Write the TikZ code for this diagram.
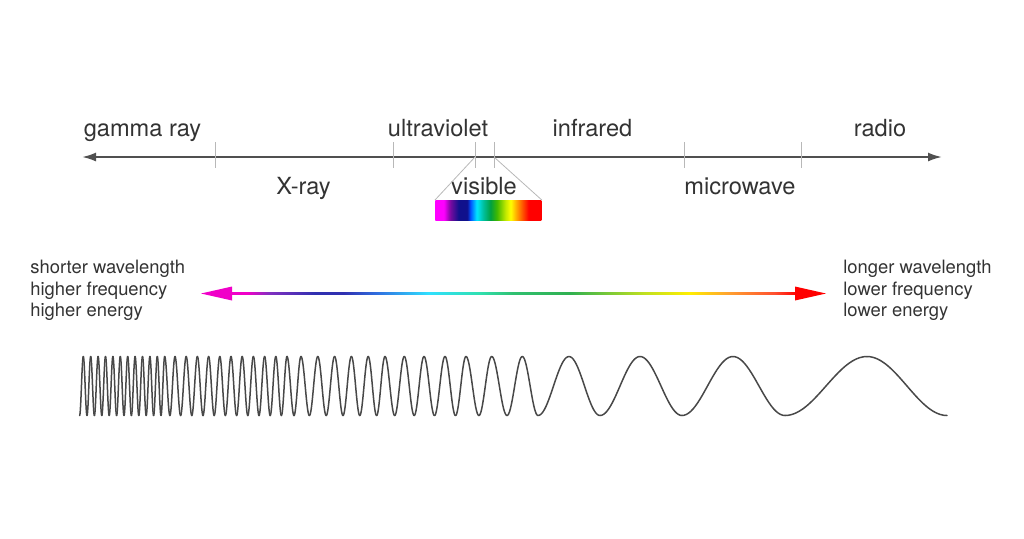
\documentclass[tikz,border=0pt]{standalone}
\usepackage{fontspec}
\setmainfont{TeX Gyre Heros}
\usetikzlibrary{arrows.meta}

\definecolor{textgray}{HTML}{333333}
\definecolor{axisgray}{HTML}{505050}
\definecolor{tickgray}{HTML}{B8B8B8}
\definecolor{wavegray}{HTML}{484848}

% colours of the visible band
\definecolor{sp1}{HTML}{FF00FF}
\definecolor{sp2}{HTML}{7A0AA0}
\definecolor{sp3}{HTML}{10108C}
\definecolor{sp4}{HTML}{0050FF}
\definecolor{sp5}{HTML}{00E8FF}
\definecolor{sp6}{HTML}{00C0A0}
\definecolor{sp7}{HTML}{00A040}
\definecolor{sp8}{HTML}{40B800}
\definecolor{sp9}{HTML}{C0E800}
\definecolor{sp10}{HTML}{FFFF00}
\definecolor{sp11}{HTML}{FFA000}
\definecolor{sp12}{HTML}{FF4800}
\definecolor{sp13}{HTML}{FF0000}

% colours of the long arrow
\definecolor{lw1}{HTML}{F000C8}
\definecolor{lw2}{HTML}{8030C0}
\definecolor{lw3}{HTML}{3030B0}
\definecolor{lw4}{HTML}{3070E0}
\definecolor{lw5}{HTML}{30E0FF}
\definecolor{lw6}{HTML}{30E0B0}
\definecolor{lw7}{HTML}{30C070}
\definecolor{lw8}{HTML}{30B050}
\definecolor{lw9}{HTML}{C0E020}
\definecolor{lw10}{HTML}{FFEE00}
\definecolor{lw11}{HTML}{FFA030}
\definecolor{lw12}{HTML}{FF5030}
\definecolor{lw13}{HTML}{FF0000}

\pgfdeclarehorizontalshading{spectrumbar}{100bp}{color(0bp)=(sp1); color(25bp)=(sp1);
  color(29bp)=(sp1); color(32bp)=(sp2); color(36bp)=(sp3); color(40bp)=(sp3);
  color(41.5bp)=(sp4); color(44.5bp)=(sp5); color(47.5bp)=(sp6); color(51bp)=(sp7);
  color(54bp)=(sp8); color(58bp)=(sp9); color(60.5bp)=(sp10); color(63.5bp)=(sp11);
  color(66.5bp)=(sp12); color(69bp)=(sp13); color(75bp)=(sp13); color(100bp)=(sp13)}

\pgfdeclarehorizontalshading{spectrumline}{100bp}{color(0bp)=(lw1); color(25bp)=(lw1);
  color(26.5bp)=(lw1); color(28.5bp)=(lw2); color(32.5bp)=(lw3); color(35bp)=(lw3);
  color(38bp)=(lw4); color(42.5bp)=(lw5); color(47bp)=(lw6); color(50bp)=(lw7);
  color(55bp)=(lw8); color(61.5bp)=(lw9); color(65.5bp)=(lw10); color(69bp)=(lw11);
  color(73bp)=(lw12); color(75bp)=(lw13); color(100bp)=(lw13)}

\begin{document}
\begin{tikzpicture}[x=0.5pt, y=-0.5pt,
	band/.style={font=\fontsize{11.8}{14}\selectfont, text=textgray, anchor=base, inner sep=0},
	note/.style={font=\fontsize{9.2}{11}\selectfont, text=textgray, anchor=base west, inner sep=0},
	tick/.style={tickgray, line width=0.4pt},
	wave/.style={wavegray, line width=0.75pt, line cap=round}]

	\useasboundingbox (0, 0) rectangle (1024, 538);

	% spectrum axis
	\coordinate (axL) at (82, 157);
	\coordinate (axR) at (942, 157);
	\draw[axisgray, line width=1pt, {Latex[length=7pt, width=4.5pt]}-{Latex[length=7pt, width=4.5pt]}] (axL) -- (axR);

	\foreach \t [count=\k] in {215, 393, 475, 494, 684, 801}
		\draw[tick] (\t, 142) coordinate (t\k) -- (\t, 168);

	\node (gamma) [band] at (142.5, 136) {gamma ray};
	\node (uv) [band] at (438, 136) {ultraviolet};
	\node (ir) [band] at (592.5, 136) {infrared};
	\node (radio) [band] at (880, 136) {radio};
	\node (xray) [band] at (303.5, 194.5) {X-ray};
	\node (visible) [band] at (484, 194.5) {visible};
	\node (micro) [band] at (740, 194.5) {microwave};

	% visible band
	\node (visbar) [shade, shading=spectrumbar, inner sep=0, minimum width=53pt, minimum height=10pt, anchor=north west] at (435, 200) {};
	\coordinate (visL) at (475, 157);
	\coordinate (visR) at (494, 157);
	\draw[tick] (visL) -- (visbar.north west);
	\draw[tick] (visR) -- (visbar.north east);

	% wavelength arrow
	\node (shortwave) [note] at (30, 273.5) {shorter wavelength};
	\node (highfreq) [note] at (30, 295) {higher frequency};
	\node (highenergy) [note] at (30, 316.5) {higher energy};
	\node (longwave) [note] at (843, 273.5) {longer wavelength};
	\node (lowfreq) [note] at (843, 295) {lower frequency};
	\node (lowenergy) [note] at (843, 316.5) {lower energy};

	\coordinate (lwL) at (201, 293.5);
	\coordinate (lwR) at (826, 293.5);
	\shade[shading=spectrumline] (230, 292.2) rectangle (797, 294.8);
	\fill[lw1] (lwL) -- ++(31, -7) -- ++(0, 14) -- cycle;
	\fill[lw13] (lwR) -- ++(-31, -7) -- ++(0, 14) -- cycle;

	% the wave, one half period at a time
	\foreach \b [remember=\b as \a (initially 79.6), count=\i] in {83.3, 87.0, 90.7, 94.4, 98.1, 101.8,
		105.5, 109.2, 112.9, 116.6, 120.3, 124.0, 127.7, 131.4, 135.1, 138.8, 142.5, 146.2, 149.9,
		153.6, 157.3, 161.0, 164.7, 169.9, 175.0, 180.6, 186.2, 191.8, 197.4, 203.0, 208.6, 214.2,
		219.8, 225.4, 231.0, 236.6, 242.2, 247.8, 253.4, 259.0, 264.6, 270.2, 275.8, 281.4, 287.0,
		294.0, 301.0, 309.4, 317.8, 326.2, 334.6, 343.0, 351.4, 359.8, 368.2, 376.6, 385.0, 394.7,
		404.3, 414.2, 424.0, 434.5, 445.0, 455.5, 466.0, 478.9, 491.7, 507.0, 522.3, 538.0, 569.0,
		600.0, 640.0, 682.0, 733.0, 785.0, 867.0, 947.0} {
		\pgfmathsetmacro\s{ifthenelse(mod(\i,2)==1, 1, -1)}
		\draw[wave] plot[domain=0:180, samples=24, smooth] ({\a+(\b-\a)*\x/180}, {386+29.5*\s*cos(\x)});
	}

\end{tikzpicture}
\end{document}
